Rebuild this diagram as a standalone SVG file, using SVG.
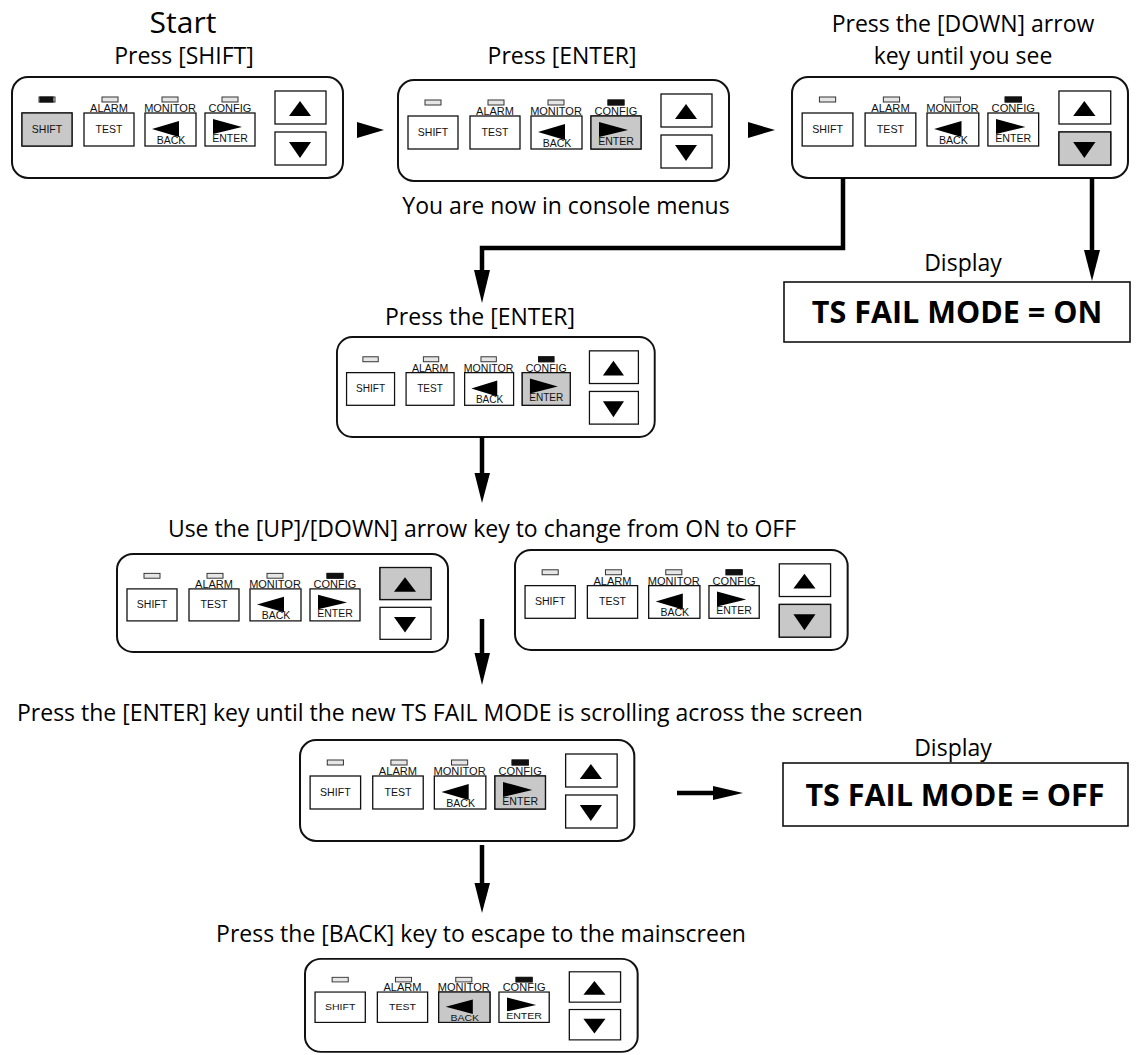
<svg xmlns="http://www.w3.org/2000/svg" xmlns:xlink="http://www.w3.org/1999/xlink" width="1140" height="1055" viewBox="0 0 1140 1055">
<style>
.bg{fill:#ffffff}
.t{font-family:"Open Sans","Liberation Sans",sans-serif;font-size:23px;fill:#000;text-anchor:middle}
.big{font-size:30px}
.disp{font-family:"Open Sans","Liberation Sans",sans-serif;font-weight:bold;font-size:30.5px;fill:#000;text-anchor:middle}
.outline{fill:#fff;stroke:#111;stroke-width:2}
.key{fill:#fff;stroke:#111;stroke-width:1.3}
.on{fill:#c8c8c8}
.led{fill:#e6e6e6;stroke:#333;stroke-width:1}
.ledon{fill:#111;stroke:#111;stroke-width:1}
.kl{font-family:"Liberation Sans",Arial,sans-serif;font-size:11px;fill:#111;text-anchor:middle}
.kt{font-family:"Liberation Sans",Arial,sans-serif;font-size:10.5px;fill:#111;text-anchor:middle}
.tri{fill:#000}
.line{fill:none;stroke:#000;stroke-width:4.5}
.dbox{fill:#fff;stroke:#111;stroke-width:1.6}
</style>
<defs>
<g id="c-shift"><text class="kt" x="36" y="57">SHIFT</text></g>
<g id="c-test"><text class="kt" x="98" y="57">TEST</text></g>
<g id="c-back"><polygon class="tri" points="141,53 168,45 168,61"/><text class="kt" x="160" y="68">BACK</text></g>
<g id="c-enter"><polygon class="tri" points="202,43 202,58 231,51"/><text class="kt" x="219" y="66">ENTER</text></g>
<g id="c-up"><polygon class="tri" points="278,40 300,40 289,25"/></g>
<g id="c-down"><polygon class="tri" points="278,66 300,66 289,82"/></g>
<g id="panel">
<rect class="outline" x="1" y="1" width="331" height="101" rx="16"/>
<rect class="led" x="28" y="21" width="16" height="5"/>
<rect class="led" x="91" y="21" width="16" height="5"/>
<rect class="led" x="151" y="21" width="16" height="5"/>
<rect class="led" x="211" y="21" width="16" height="5"/>
<text class="kl" x="98" y="36">ALARM</text>
<text class="kl" x="159" y="36">MONITOR</text>
<text class="kl" x="219" y="36">CONFIG</text>
<rect class="key" x="11" y="37" width="50" height="33"/><use href="#c-shift"/>
<rect class="key" x="73" y="37" width="50" height="33"/><use href="#c-test"/>
<rect class="key" x="134" y="37" width="51" height="33"/><use href="#c-back"/>
<rect class="key" x="194" y="37" width="50" height="33"/><use href="#c-enter"/>
<rect class="key" x="264" y="15" width="51" height="33"/><use href="#c-up"/>
<rect class="key" x="264" y="56" width="51" height="33"/><use href="#c-down"/>
</g>
</defs>
<rect class="bg" x="0" y="0" width="1140" height="1055"/>

<g id="texts">
<text class="t big" x="183" y="33">Start</text>
<text class="t" x="184" y="64">Press [SHIFT]</text>
<text class="t" x="562" y="64">Press [ENTER]</text>
<text class="t" x="963" y="32">Press the [DOWN] arrow</text>
<text class="t" x="963" y="64">key until you see</text>
<text class="t" x="566" y="214">You are now in console menus</text>
<text class="t" x="480" y="325">Press the [ENTER]</text>
<text class="t" x="482" y="537">Use the [UP]/[DOWN] arrow key to change from ON to OFF</text>
<text class="t" x="440" y="721">Press the [ENTER] key until the new TS FAIL MODE is scrolling across the screen</text>
<text class="t" x="481" y="942">Press the [BACK] key to escape to the mainscreen</text>
</g>

<g id="p1" transform="translate(11,76)">
<use href="#panel"/>
<rect class="ledon" x="29" y="21" width="13" height="5"/>
<rect class="key on" x="11" y="37" width="50" height="33"/><use href="#c-shift"/>
</g>
<g id="p2" transform="translate(397,79)">
<use href="#panel"/>
<rect class="ledon" x="211" y="21" width="16" height="5"/>
<rect class="key on" x="194" y="37" width="50" height="33"/><use href="#c-enter"/>
</g>
<g id="p3" transform="translate(791,76) scale(1.015,1)">
<use href="#panel"/>
<rect class="ledon" x="211" y="21" width="16" height="5"/>
<rect class="key on" x="264" y="56" width="51" height="33"/><use href="#c-down"/>
</g>
<g id="p4" transform="translate(336,336) scale(0.96,0.99)">
<use href="#panel"/>
<rect class="ledon" x="211" y="21" width="16" height="5"/>
<rect class="key on" x="194" y="37" width="50" height="33"/><use href="#c-enter"/>
</g>
<g id="p5a" transform="translate(116,553) scale(1,0.97)">
<use href="#panel"/>
<rect class="ledon" x="211" y="21" width="16" height="5"/>
<rect class="key on" x="264" y="15" width="51" height="33"/><use href="#c-up"/>
</g>
<g id="p5b" transform="translate(514,549) scale(1.005,0.99)">
<use href="#panel"/>
<rect class="ledon" x="211" y="21" width="16" height="5"/>
<rect class="key on" x="264" y="56" width="51" height="33"/><use href="#c-down"/>
</g>
<g id="p6" transform="translate(299,739) scale(1.01,1)">
<use href="#panel"/>
<rect class="ledon" x="211" y="21" width="16" height="5"/>
<rect class="key on" x="194" y="37" width="50" height="33"/><use href="#c-enter"/>
</g>
<g id="p7" transform="translate(304,958) scale(1.005,0.92)">
<use href="#panel"/>
<rect class="ledon" x="211" y="21" width="16" height="5"/>
<rect class="key on" x="134" y="37" width="51" height="33"/><use href="#c-back"/>
</g>

<g id="display1">
<text class="t" x="963" y="271">Display</text>
<rect class="dbox" x="784" y="282" width="346" height="60"/>
<text class="disp" x="957" y="323">TS FAIL MODE = ON</text>
</g>
<g id="display2">
<text class="t" x="953" y="756">Display</text>
<rect class="dbox" x="783" y="763" width="345" height="63"/>
<text class="disp" x="955" y="806">TS FAIL MODE = OFF</text>
</g>

<g id="connectors">
<polygon class="tri" points="357,122 384,130 357,138"/>
<polygon class="tri" points="748,122 775,130 748,138"/>
<path class="line" d="M843,178 V248 H482 V275"/>
<polygon class="tri" points="474,270 490,270 482,303"/>
<path class="line" d="M1092,178 V254"/>
<polygon class="tri" points="1084,250 1100,250 1092,281"/>
<path class="line" d="M482,437 V476"/>
<polygon class="tri" points="474.5,473 490,473 482,503"/>
<path class="line" d="M482,619 V656"/>
<polygon class="tri" points="474.5,653 490,653 482,685"/>
<path class="line" d="M677,793 H716"/>
<polygon class="tri" points="713,786 743,793 713,800"/>
<path class="line" d="M482,845 V886"/>
<polygon class="tri" points="474.5,883 490,883 482,913"/>
</g>
</svg>
